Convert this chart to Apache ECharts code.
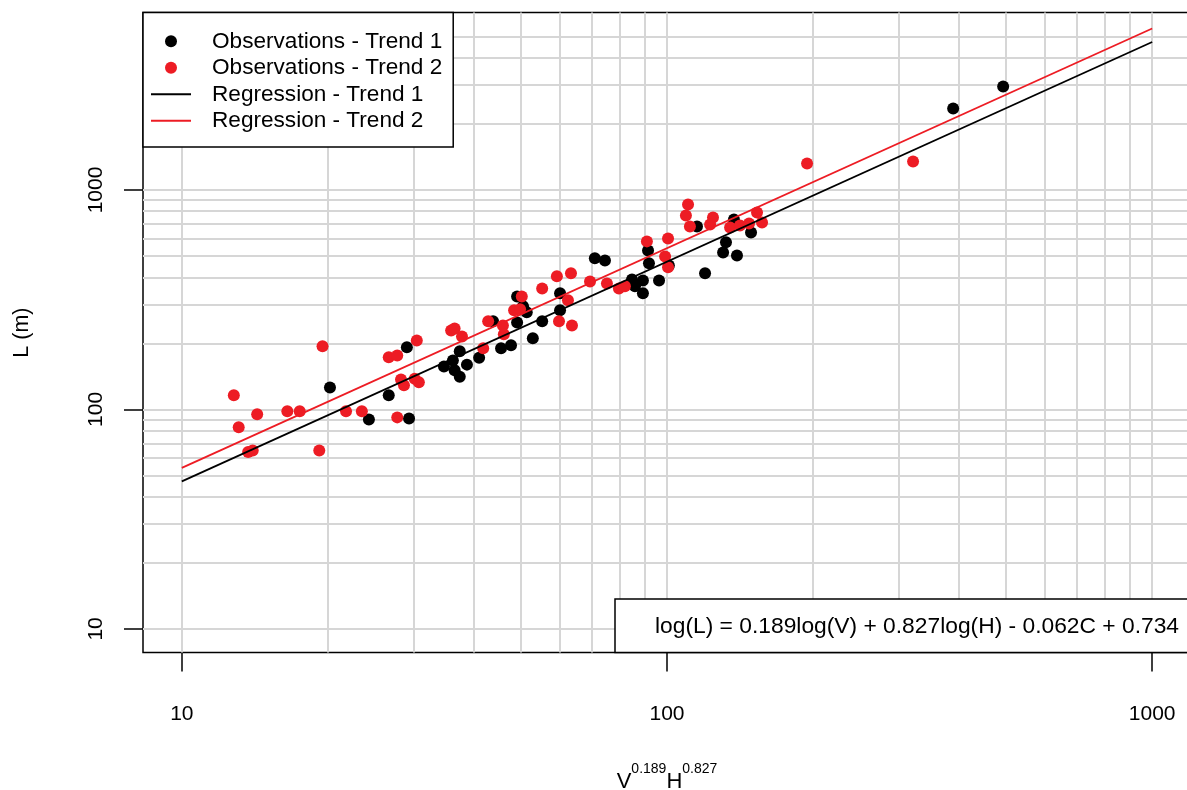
<!DOCTYPE html>
<html>
<head>
<meta charset="utf-8">
<title>L vs V^0.189 H^0.827</title>
<script src="https://cdn.jsdelivr.net/npm/echarts@6/dist/echarts.min.js"></script>
<style>
  html, body { margin: 0; padding: 0; background: #fff; }
  #chart { width: 1187px; height: 790px; }
</style>
</head>
<body>
<div id="chart"></div>
<script>
  /** Data */
  var obs1X = [20.2, 24.3, 26.7, 29.1, 29.4, 34.7, 36.2, 36.5, 37.4, 37.4,
    38.7, 41.0, 43.8, 45.5, 47.7, 49.1, 50.5, 51.4, 49.1, 52.9,
    55.3, 60.2, 60.2, 71.0, 74.5, 84.7, 85.9, 89.2, 89.2, 91.4,
    91.8, 96.3, 100.9, 115.3, 119.8, 130.5, 132.3, 137.4, 139.4, 149.0,
    388.9, 493];
  var obs1Y = [126, 90, 116, 192, 91, 157, 167, 151, 184, 141,
    160, 172, 252, 190, 196, 327, 295, 277, 249, 211,
    252, 338, 283, 488, 477, 391, 364, 387, 338, 530,
    463, 387, 453, 682, 417, 519, 577, 734, 503, 640,
    2351, 2961];

  var obs2X = [12.8, 13.1, 13.7, 14.0, 14.3, 16.5, 17.5, 19.2, 19.5, 21.8,
    23.5, 26.7, 27.8, 27.8, 28.3, 28.7, 30.2, 30.8, 30.5, 35.9,
    36.5, 37.8, 41.8, 42.8, 45.9, 46.1, 48.4, 49.8, 50.2, 55.3,
    59.3, 63.4, 62.5, 59.9, 63.7, 69.4, 75.2, 79.6, 81.9, 90.9,
    100.5, 99.1, 100.5, 110.5, 109.4, 111.5, 124.4, 122.7, 134.9, 141.4,
    147.6, 153.3, 157.0, 194.4, 321.5];
  var obs2Y = [116, 83, 64, 65, 95, 98, 98, 65, 194, 98,
    98, 173, 176, 92, 137, 129, 138, 133, 206, 229,
    234, 215, 190, 252, 241, 220, 283, 286, 327, 356,
    404, 417, 314, 252, 241, 383, 375, 356, 364, 583,
    601, 498, 444, 859, 765, 682, 749, 696, 675, 689,
    704, 790, 711, 1320, 1348];

  // regression lines, end points at x = 10 and x = 1000
  var regX = [10, 1000];
  var reg1Y = [47, 4720];
  var reg2Y = [54.2, 5440];

  var tickValues = [10, 100, 1000];
  var gridXValues = [10, 20, 30, 40, 50, 60, 70, 80, 90,
    100, 200, 300, 400, 500, 600, 700, 800, 900, 1000];
  var gridYValues = [10, 20, 30, 40, 50, 60, 70, 80, 90,
    100, 200, 300, 400, 500, 600, 700, 800, 900,
    1000, 2000, 3000, 4000, 5000];

  var equation = 'log(L) = 0.189log(V) + 0.827log(H) - 0.062C + 0.734';

  var FONT = '"Liberation Sans", Arial, Helvetica, sans-serif';
  var RED = '#ED1C24';

  function zip(xs, ys) {
    var out = [];
    for (var i = 0; i < xs.length; i++) out.push([xs[i], ys[i]]);
    return out;
  }

  var gridLines = [];
  gridXValues.forEach(function(v) { gridLines.push({ xAxis: v }); });
  gridYValues.forEach(function(v) { gridLines.push({ yAxis: v }); });

  var labelFmt = function(v) { return String(Math.round(v)); };

  var option = {
    animation: false,
    backgroundColor: '#fff',
    textStyle: { fontFamily: FONT },
    grid: {
      left: 143, top: 12.6, width: 1048, height: 640,
      outerBoundsMode: 'none',
      containLabel: false,
      show: true, borderColor: '#000', borderWidth: 1.5,
      backgroundColor: 'transparent'
    },
    legend: {
      orient: 'vertical',
      left: 143, top: 12.6,
      padding: [15.5, 11, 13, 7],
      itemGap: 0,
      itemWidth: 40, itemHeight: 12,
      backgroundColor: '#fff',
      borderColor: '#000', borderWidth: 1.5, borderRadius: 0,
      textStyle: { fontFamily: FONT, fontSize: 22.6, color: '#000', lineHeight: 26.5, padding: [0, 0, 0, 16] },
      data: [
        { name: 'Observations - Trend 1' },
        { name: 'Observations - Trend 2' },
        { name: 'Regression - Trend 1', itemStyle: { opacity: 0 } },
        { name: 'Regression - Trend 2', itemStyle: { opacity: 0 } }
      ],
      z: 20
    },
    xAxis: {
      type: 'log', logBase: 10,
      min: 8.318, max: 1202.3,
      name: '{b|V}{s|0.189}{b|H}{s|0.827}',
      nameLocation: 'middle', nameGap: 110,
      nameTextStyle: {
        rich: {
          b: { fontFamily: FONT, fontSize: 22, color: '#000', lineHeight: 30, verticalAlign: 'bottom' },
          s: { fontFamily: FONT, fontSize: 14, color: '#000', lineHeight: 30, verticalAlign: 'top' }
        }
      },
      axisLine: { show: false },
      axisTick: { show: true, length: 19, customValues: tickValues, lineStyle: { color: '#000', width: 1.5 } },
      axisLabel: { customValues: tickValues, formatter: labelFmt, fontFamily: FONT, fontSize: 21, color: '#000', margin: 51 },
      splitLine: { show: false }
    },
    yAxis: {
      type: 'log', logBase: 10,
      min: 7.80, max: 6427,
      name: 'L (m)',
      nameLocation: 'middle', nameGap: 110,
      nameTextStyle: { fontFamily: FONT, fontSize: 21.5, color: '#000' },
      axisLine: { show: false },
      axisTick: { show: true, length: 19, customValues: tickValues, lineStyle: { color: '#000', width: 1.5 } },
      axisLabel: { customValues: tickValues, formatter: labelFmt, rotate: 90, fontFamily: FONT, fontSize: 21, color: '#000', margin: 36 },
      splitLine: { show: false }
    },
    graphic: [{
      type: 'rect', z: 100,
      shape: { x: 615, y: 599, width: 600, height: 53.6 },
      style: { fill: '#fff', stroke: '#000', lineWidth: 1.5 }
    }, {
      type: 'text', z: 101,
      style: { text: equation, x: 655, y: 627, font: '22.8px ' + FONT, fill: '#000', verticalAlign: 'middle' }
    }],
    series: [{
      name: 'grid',
      type: 'line',
      data: [],
      silent: true,
      markLine: {
        silent: true, z: 1,
        symbol: ['none', 'none'],
        label: { show: false },
        lineStyle: { type: 'solid', color: '#D6D6D6', width: 2 },
        emphasis: { disabled: true },
        data: gridLines
      }
    }, {
      name: 'Observations - Trend 1',
      type: 'scatter',
      symbol: 'circle', symbolSize: 12,
      itemStyle: { color: '#000', opacity: 1 },
      z: 3,
      data: zip(obs1X, obs1Y)
    }, {
      name: 'Observations - Trend 2',
      type: 'scatter',
      symbol: 'circle', symbolSize: 12,
      itemStyle: { color: RED, opacity: 1 },
      z: 4,
      data: zip(obs2X, obs2Y)
    }, {
      name: 'Regression - Trend 1',
      type: 'line',
      symbol: 'none',
      lineStyle: { color: '#000', width: 1.8 },
      itemStyle: { color: '#000' },
      z: 5,
      data: zip(regX, reg1Y)
    }, {
      name: 'Regression - Trend 2',
      type: 'line',
      symbol: 'none',
      lineStyle: { color: RED, width: 1.8 },
      itemStyle: { color: RED },
      z: 5,
      data: zip(regX, reg2Y)
    }]
  };

  echarts.init(document.getElementById('chart')).setOption(option);
</script>
</body>
</html>
